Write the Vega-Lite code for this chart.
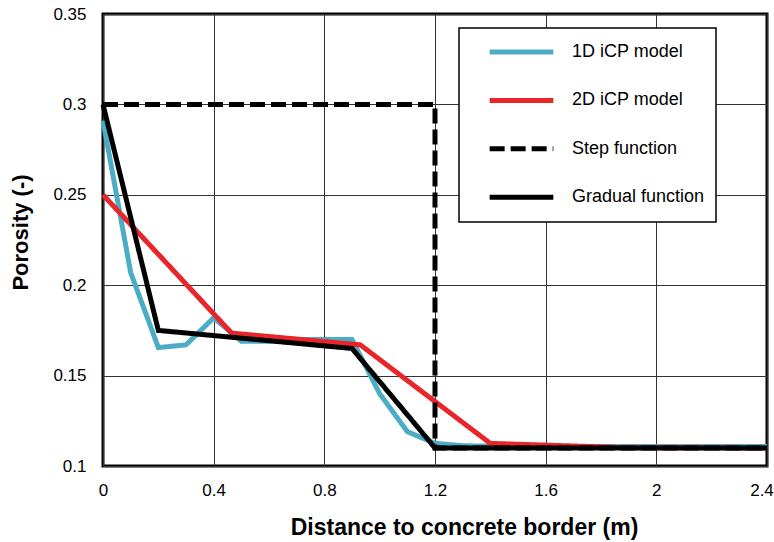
{
  "$schema": "https://vega.github.io/schema/vega-lite/v6.json",
  "autosize": {"type": "none"},
  "padding": {"left": 103, "top": 14, "right": 7, "bottom": 76},
  "width": 664,
  "height": 452,
  "background": "white",
  "config": {
    "font": "Liberation Sans",
    "view": {"stroke": "black", "strokeWidth": 3}
  },
  "data": {
    "values": [
      {"series": "1D iCP model", "i": 0, "x": 0.0, "y": 0.291},
      {"series": "1D iCP model", "i": 1, "x": 0.1, "y": 0.207},
      {"series": "1D iCP model", "i": 2, "x": 0.2, "y": 0.1655},
      {"series": "1D iCP model", "i": 3, "x": 0.3, "y": 0.167},
      {"series": "1D iCP model", "i": 4, "x": 0.4, "y": 0.182},
      {"series": "1D iCP model", "i": 5, "x": 0.5, "y": 0.169},
      {"series": "1D iCP model", "i": 6, "x": 0.6, "y": 0.169},
      {"series": "1D iCP model", "i": 7, "x": 0.7, "y": 0.17},
      {"series": "1D iCP model", "i": 8, "x": 0.8, "y": 0.17},
      {"series": "1D iCP model", "i": 9, "x": 0.9, "y": 0.17},
      {"series": "1D iCP model", "i": 10, "x": 1.0, "y": 0.14},
      {"series": "1D iCP model", "i": 11, "x": 1.1, "y": 0.119},
      {"series": "1D iCP model", "i": 12, "x": 1.2, "y": 0.1125},
      {"series": "1D iCP model", "i": 13, "x": 1.3, "y": 0.1112},
      {"series": "1D iCP model", "i": 14, "x": 1.4, "y": 0.111},
      {"series": "1D iCP model", "i": 15, "x": 1.6, "y": 0.1108},
      {"series": "1D iCP model", "i": 16, "x": 1.8, "y": 0.1108},
      {"series": "1D iCP model", "i": 17, "x": 2.0, "y": 0.1108},
      {"series": "1D iCP model", "i": 18, "x": 2.2, "y": 0.1108},
      {"series": "1D iCP model", "i": 19, "x": 2.4, "y": 0.1108},
      {"series": "2D iCP model", "i": 0, "x": 0.0, "y": 0.25},
      {"series": "2D iCP model", "i": 1, "x": 0.465, "y": 0.1735},
      {"series": "2D iCP model", "i": 2, "x": 0.93, "y": 0.167},
      {"series": "2D iCP model", "i": 3, "x": 1.4, "y": 0.1125},
      {"series": "2D iCP model", "i": 4, "x": 1.9, "y": 0.1101},
      {"series": "2D iCP model", "i": 5, "x": 2.4, "y": 0.11},
      {"series": "Gradual function", "i": 0, "x": 0.0, "y": 0.3},
      {"series": "Gradual function", "i": 1, "x": 0.2, "y": 0.175},
      {"series": "Gradual function", "i": 2, "x": 0.9, "y": 0.165},
      {"series": "Gradual function", "i": 3, "x": 1.2, "y": 0.11},
      {"series": "Gradual function", "i": 4, "x": 2.4, "y": 0.11},
      {"series": "Step function", "i": 0, "x": 0.0, "y": 0.3},
      {"series": "Step function", "i": 1, "x": 1.2, "y": 0.3},
      {"series": "Step function", "i": 2, "x": 1.2, "y": 0.11},
      {"series": "Step function", "i": 3, "x": 2.4, "y": 0.11}
    ]
  },
  "mark": {"type": "line", "strokeWidth": 5, "strokeCap": "butt", "strokeJoin": "miter"},
  "encoding": {
    "x": {
      "field": "x", "type": "quantitative",
      "scale": {"domain": [0, 2.4], "nice": false, "zero": false},
      "axis": {
        "values": [0, 0.4, 0.8, 1.2, 1.6, 2, 2.4],
        "format": "~g",
        "title": "Distance to concrete border (m)",
        "titleFontSize": 23, "titleFontWeight": "bold", "titleColor": "black", "titlePadding": 18,
        "titleX": 361,
        "labelFontSize": 17, "labelColor": "black", "labelPadding": 16, "labelFontWeight": "normal",
        "labelFlush": false, "labelOverlap": false,
        "labelOffset": {"condition": {"test": "datum.value >= 2.39", "value": -5.5}, "value": 0},
        "ticks": false, "domain": false,
        "grid": true, "gridColor": "#333333", "gridWidth": 1, "gridOpacity": 1
      }
    },
    "y": {
      "field": "y", "type": "quantitative",
      "scale": {"domain": [0.1, 0.35], "nice": false, "zero": false},
      "axis": {
        "values": [0.1, 0.15, 0.2, 0.25, 0.3, 0.35],
        "format": "~g",
        "title": "Porosity (-)",
        "titleFontSize": 22, "titleFontWeight": "bold", "titleColor": "black", "titlePadding": 20,
        "titleY": 218,
        "labelFontSize": 17, "labelColor": "black", "labelPadding": 17,
        "labelFlush": false, "labelOverlap": false,
        "ticks": false, "domain": false,
        "grid": true, "gridColor": "#333333", "gridWidth": 1, "gridOpacity": 1
      }
    },
    "order": {"field": "i", "type": "quantitative"},
    "color": {
      "field": "series", "type": "nominal",
      "scale": {
        "domain": ["1D iCP model", "2D iCP model", "Step function", "Gradual function"],
        "range": ["#4bacc6", "#e8262a", "#000000", "#000000"]
      },
      "legend": {
        "orient": "none", "legendX": 356, "legendY": 14,
        "title": "\u00a0\u00a0\u00a0\u00a0\u00a0\u00a0\u00a0\u00a0",
        "titleOrient": "right", "titleFontSize": 18, "titlePadding": 2,
        "symbolType": "stroke", "symbolSize": 4058, "symbolStrokeWidth": 5,
        "labelFontSize": 18, "labelColor": "black", "labelOffset": 16,
        "clipHeight": 28, "rowPadding": 20.4, "padding": 10, "symbolOffset": 18,
        "strokeColor": "black", "fillColor": "white", "cornerRadius": 0,
        "encode": {"legend": {"update": {"strokeWidth": {"value": 1.5}}}}
      }
    },
    "strokeDash": {
      "field": "series", "type": "nominal",
      "scale": {
        "domain": ["1D iCP model", "2D iCP model", "Step function", "Gradual function"],
        "range": [[1, 0], [1, 0], [15, 6], [1, 0]]
      },
      "legend": null
    }
  }
}
